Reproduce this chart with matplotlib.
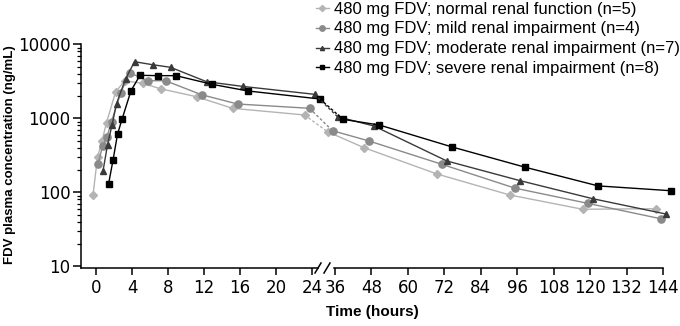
import matplotlib
matplotlib.use("Agg")
import matplotlib.pyplot as plt
from matplotlib.lines import Line2D
from matplotlib.transforms import ScaledTranslation
from matplotlib.ticker import LogLocator, NullFormatter, FixedLocator

# sampling times (hours)
times = [0.5, 1, 1.5, 2, 3, 4, 6, 8, 12, 16, 24, 36, 48, 72, 96, 120, 144]

# mean FDV plasma concentration (ng/mL)
normal = [92, 297, 494, 873, 2245, 3220, 2970, 2510, 1958, 1365, 1109, 659, 401, 177, 92, 59, 60]
mild = [239, 420, 564, 900, 2177, 4130, 3220, 3220, 2084, 1560, 1365, 680, 494, 239, 114, 71, 44]
moderate = [194, 436, 811, 1575, 3400, 5820, 5300, 4890, 3125, 2700, 2110, 1051, 787, 265, 144, 82, 51]
severe = [128, 271, 608, 969, 2360, 3810, 3770, 3770, 2880, 2340, 1823, 968, 811, 409, 218, 122, 105]

labels = ["480 mg FDV; normal renal function (n=5)",
          "480 mg FDV; mild renal impairment (n=4)",
          "480 mg FDV; moderate renal impairment (n=7)",
          "480 mg FDV; severe renal impairment (n=8)"]

series = [normal, mild, moderate, severe]
colors = ["#b4b4b4", "#8a8a8a", "#3a3a3a", "#000000"]
markers = ["D", "o", "^", "s"]
msizes = [4.2, 5.2, 4.0, 4.3]
nudge_px = [-7.5, -2.5, 2.5, 8]   # horizontal nudge so the series don't overlap

tick_font = ["Liberation Sans Narrow", "DejaVu Sans"]
plt.rcParams['font.family'] = ["Liberation Sans", "DejaVu Sans"]

W, H = 680, 326
fig = plt.figure(figsize=(6.8, 3.26), dpi=100)

bot, top = 268, 44.3
ax1 = fig.add_axes([80.7 / W, (H - bot) / H, (318 - 80.7) / W, (bot - top) / H])
ax2 = fig.add_axes([334 / W, (H - bot) / H, (663 - 334) / W, (bot - top) / H])

for ax in (ax1, ax2):
    ax.set_yscale("log")
    ax.set_ylim(10 ** (1 - 1.7 / 74), 10000)
    ax.spines["top"].set_visible(False)
    ax.spines["right"].set_visible(False)
    ax.spines["bottom"].set_linewidth(1.1)
    ax.spines["left"].set_linewidth(1.1)
    ax.patch.set_alpha(0)

ax1.set_xlim((80.7 - 96) / 9, (318 - 96) / 9)
ax2.set_xlim(36 - 1 / 3.037, 144)
ax1.set_xticks(range(0, 25, 4))
ax2.set_xticks(range(36, 145, 12))

ax2.spines["left"].set_visible(False)
ax2.tick_params(axis="y", which="both", left=False, labelleft=False)

ax1.yaxis.set_major_locator(FixedLocator([10, 100, 1000, 10000]))
ax1.yaxis.set_minor_locator(LogLocator(base=10, subs=range(2, 10)))
ax1.yaxis.set_minor_formatter(NullFormatter())
ax1.set_yticklabels(["10", "100", "1000", "10000"])

for ax in (ax1, ax2):
    ax.tick_params(axis="x", which="major", length=5, width=1.1, pad=3, direction="out")
    ax.tick_params(axis="y", which="major", length=6, width=1.1, pad=1.5)
    ax.tick_params(axis="y", which="minor", length=3, width=0.9)
    for lab in ax.get_xticklabels() + ax.get_yticklabels():
        lab.set_family(tick_font)
        lab.set_fontsize(12)

for vals, c, m, ms, dx in zip(series, colors, markers, msizes, nudge_px):
    left_t = [t for t in times if t <= 24]
    left_v = vals[:len(left_t)]
    right_t = [t for t in times if t >= 36]
    right_v = vals[len(left_t):]
    off = ScaledTranslation(dx / 100, 0, fig.dpi_scale_trans)
    kw = dict(color=c, marker=m, markersize=ms, linewidth=1.0, clip_on=False)
    ax1.plot(left_t, left_v, transform=ax1.transData + off, **kw)
    ax2.plot(right_t, right_v, transform=ax2.transData + off, **kw)
    # dashed link across the axis break
    p1 = (ax1.transData + off).transform((left_t[-1], left_v[-1]))
    p2 = (ax2.transData + off).transform((right_t[0], right_v[0]))
    fig.add_artist(Line2D([p1[0], p2[0]], [p1[1], p2[1]], transform=None,
                          color=c, linewidth=1.0, linestyle=(0, (2, 1.5))))

# break marks on the x axis
for xb in (318, 327):
    fig.add_artist(Line2D([(xb - 3) / W, (xb + 3) / W], [(H - bot - 5) / H, (H - bot + 5) / H],
                          transform=fig.transFigure, color="black", linewidth=1.1))

fig.text(372 / W, 1 - 312 / H, "Time (hours)", ha="center", va="center",
         fontsize=11, fontweight="bold")
fig.text(10 / W, 1 - 155 / H, "FDV plasma concentration (ng/mL)", ha="center", va="center",
         rotation=90, fontsize=9.5, fontweight="bold")

leg_handles = [Line2D([], [], color=c, marker=m, markersize=ms * 0.75, linewidth=1.0)
               for c, m, ms in zip(colors, markers, msizes)]
fig.legend(leg_handles, labels, loc="upper left", bbox_to_anchor=(314 / W, 1.0),
           frameon=False, fontsize=12, handlelength=0.8, handletextpad=0.3,
           labelspacing=0.29, borderpad=0.1, borderaxespad=0)

fig.savefig("out.png", dpi=100)
